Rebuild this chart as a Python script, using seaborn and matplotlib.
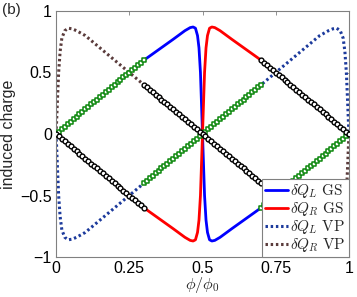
import matplotlib
matplotlib.use("Agg")
import matplotlib.pyplot as plt
import seaborn as sns

# ground state (GS) induced charge on the left dot
gs_phi = [0.0, 0.3, 0.35, 0.4, 0.44, 0.458, 0.468, 0.476, 0.483, 0.488, 0.493, 0.5,
          0.507, 0.512, 0.517, 0.524, 0.532, 0.542, 0.56, 0.6, 0.65, 0.7, 1.0]
gs_L = [0.0, 0.6, 0.685, 0.77, 0.84, 0.865, 0.87, 0.86, 0.8, 0.7, 0.5, 0.0,
        -0.5, -0.7, -0.8, -0.86, -0.87, -0.865, -0.84, -0.77, -0.685, -0.6, 0.0]
gs_R = [0.0, -0.6, -0.685, -0.77, -0.84, -0.865, -0.87, -0.86, -0.8, -0.7, -0.5, 0.0,
        0.5, 0.7, 0.8, 0.86, 0.87, 0.865, 0.84, 0.77, 0.685, 0.6, 0.0]

# variational (VP) induced charge
vp_phi = [0.0, 0.002, 0.005, 0.009, 0.014, 0.02, 0.03, 0.042, 0.055, 0.07, 0.1, 0.2, 0.3,
          0.5, 0.7, 0.8, 0.9, 0.93, 0.945, 0.958, 0.97, 0.98, 0.986, 0.991, 0.995, 0.998, 1.0]
vp_L = [0.0, -0.1, -0.28, -0.5, -0.67, -0.78, -0.84, -0.86, -0.855, -0.84, -0.8, -0.6, -0.4,
        0.0, 0.4, 0.6, 0.8, 0.84, 0.855, 0.86, 0.84, 0.78, 0.67, 0.5, 0.28, 0.1, 0.0]
vp_R = [0.0, 0.1, 0.28, 0.5, 0.67, 0.78, 0.84, 0.86, 0.855, 0.84, 0.8, 0.6, 0.4,
        0.0, -0.4, -0.6, -0.8, -0.84, -0.855, -0.86, -0.84, -0.78, -0.67, -0.5, -0.28, -0.1, 0.0]

# marker series (green squares / black circles)
mk_phi = [0.00, 0.01, 0.02, 0.03, 0.04, 0.05, 0.06, 0.07, 0.08, 0.09, 0.10, 0.11, 0.12, 0.13, 0.14, 0.15,
          0.16, 0.17, 0.18, 0.19, 0.20, 0.21, 0.22, 0.23, 0.24, 0.25, 0.26, 0.27, 0.28, 0.29, 0.30,
          0.30, 0.31, 0.32, 0.33, 0.34, 0.35, 0.36, 0.37, 0.38, 0.39, 0.40, 0.41, 0.42, 0.43, 0.44, 0.45,
          0.46, 0.47, 0.48, 0.49, 0.50, 0.51, 0.52, 0.53, 0.54, 0.55, 0.56, 0.57, 0.58, 0.59, 0.60,
          0.61, 0.62, 0.63, 0.64, 0.65, 0.66, 0.67, 0.68, 0.69, 0.70,
          0.70, 0.71, 0.72, 0.73, 0.74, 0.75, 0.76, 0.77, 0.78, 0.79, 0.80, 0.81, 0.82, 0.83, 0.84, 0.85,
          0.86, 0.87, 0.88, 0.89, 0.90, 0.91, 0.92, 0.93, 0.94, 0.95, 0.96, 0.97, 0.98, 0.99, 1.00]
green_q = [0.00, 0.02, 0.04, 0.06, 0.08, 0.10, 0.12, 0.14, 0.16, 0.18, 0.20, 0.22, 0.24, 0.26, 0.28, 0.30,
           0.32, 0.34, 0.36, 0.38, 0.40, 0.42, 0.44, 0.46, 0.48, 0.50, 0.52, 0.54, 0.56, 0.58, 0.60,
           -0.40, -0.38, -0.36, -0.34, -0.32, -0.30, -0.28, -0.26, -0.24, -0.22, -0.20, -0.18, -0.16, -0.14, -0.12, -0.10,
           -0.08, -0.06, -0.04, -0.02, 0.00, 0.02, 0.04, 0.06, 0.08, 0.10, 0.12, 0.14, 0.16, 0.18, 0.20,
           0.22, 0.24, 0.26, 0.28, 0.30, 0.32, 0.34, 0.36, 0.38, 0.40,
           -0.60, -0.58, -0.56, -0.54, -0.52, -0.50, -0.48, -0.46, -0.44, -0.42, -0.40, -0.38, -0.36, -0.34, -0.32, -0.30,
           -0.28, -0.26, -0.24, -0.22, -0.20, -0.18, -0.16, -0.14, -0.12, -0.10, -0.08, -0.06, -0.04, -0.02, 0.00]
black_q = [0.00, -0.02, -0.04, -0.06, -0.08, -0.10, -0.12, -0.14, -0.16, -0.18, -0.20, -0.22, -0.24, -0.26, -0.28, -0.30,
           -0.32, -0.34, -0.36, -0.38, -0.40, -0.42, -0.44, -0.46, -0.48, -0.50, -0.52, -0.54, -0.56, -0.58, -0.60,
           0.40, 0.38, 0.36, 0.34, 0.32, 0.30, 0.28, 0.26, 0.24, 0.22, 0.20, 0.18, 0.16, 0.14, 0.12, 0.10,
           0.08, 0.06, 0.04, 0.02, 0.00, -0.02, -0.04, -0.06, -0.08, -0.10, -0.12, -0.14, -0.16, -0.18, -0.20,
           -0.22, -0.24, -0.26, -0.28, -0.30, -0.32, -0.34, -0.36, -0.38, -0.40,
           0.60, 0.58, 0.56, 0.54, 0.52, 0.50, 0.48, 0.46, 0.44, 0.42, 0.40, 0.38, 0.36, 0.34, 0.32, 0.30,
           0.28, 0.26, 0.24, 0.22, 0.20, 0.18, 0.16, 0.14, 0.12, 0.10, 0.08, 0.06, 0.04, 0.02, 0.00]

x_ticks = [0, 0.25, 0.5, 0.75, 1]
x_labels = ["0", "0.25", "0.5", "0.75", "1"]
y_ticks = [-1, -0.5, 0, 0.5, 1]
y_labels = ["\u22121", "\u22120.5", "0", "0.5", "1"]

sns.set_theme(style="white")
plt.rcParams["font.family"] = ["Liberation Sans", "DejaVu Sans"]
plt.rcParams["mathtext.fontset"] = "cm"

fig = plt.figure(figsize=(3.57, 2.97), dpi=100)
ax = fig.add_axes([56 / 357, 1 - 257 / 297, 293 / 357, 246 / 297])

dots = (0, (0.8, 0.9))
sns.lineplot(x=gs_phi, y=gs_L, color="#0000ff", lw=2, sort=False, estimator=None,
             label=r"$\delta Q_L\ \mathrm{GS}$", ax=ax)
sns.lineplot(x=gs_phi, y=gs_R, color="#ff0000", lw=2, sort=False, estimator=None,
             label=r"$\delta Q_R\ \mathrm{GS}$", ax=ax)
sns.lineplot(x=vp_phi, y=vp_L, color="#1c3a9c", lw=2.2, ls=dots, sort=False, estimator=None,
             label=r"$\delta Q_L\ \mathrm{VP}$", ax=ax)
sns.lineplot(x=vp_phi, y=vp_R, color="#5a3b3b", lw=2.2, ls=dots, sort=False, estimator=None,
             label=r"$\delta Q_R\ \mathrm{VP}$", ax=ax)

sns.scatterplot(x=mk_phi, y=green_q, marker="s", s=11, color="white", edgecolor="#0c870c",
                linewidth=1.1, legend=False, ax=ax, zorder=4)
sns.scatterplot(x=mk_phi, y=black_q, marker="o", s=12, color="white", edgecolor="black",
                linewidth=1.0, legend=False, ax=ax, zorder=5)

ax.set_xlim(0, 1)
ax.set_ylim(-1, 1)
ax.set_xticks(x_ticks)
ax.set_xticklabels(x_labels)
ax.set_yticks(y_ticks)
ax.set_yticklabels(y_labels)
ax.tick_params(direction="in", length=3, width=0.6, color="#808080", top=True, right=True,
               labelsize=11.5, pad=3, labelcolor="black")
for sp in ax.spines.values():
    sp.set_color("#808080")
    sp.set_linewidth(0.8)

ax.set_xlabel(r"$\phi/\phi_0$", fontsize=11.5)
ax.xaxis.set_label_coords(0.5, -0.072)
ax.set_ylabel("induced charge", fontsize=11.5)
ax.yaxis.set_label_coords(-0.135, 0.5)

leg = ax.legend(loc="lower right", borderaxespad=0, fontsize=11, labelspacing=0.0,
                handlelength=1.5, handletextpad=0.15, borderpad=0.2, fancybox=False,
                framealpha=1, edgecolor="#808080")
leg.get_frame().set_linewidth(0.8)

fig.text(0.005, 0.99, "(b)", fontsize=11, va="top", ha="left")

fig.savefig("out.png", dpi=100)
plt.close(fig)
